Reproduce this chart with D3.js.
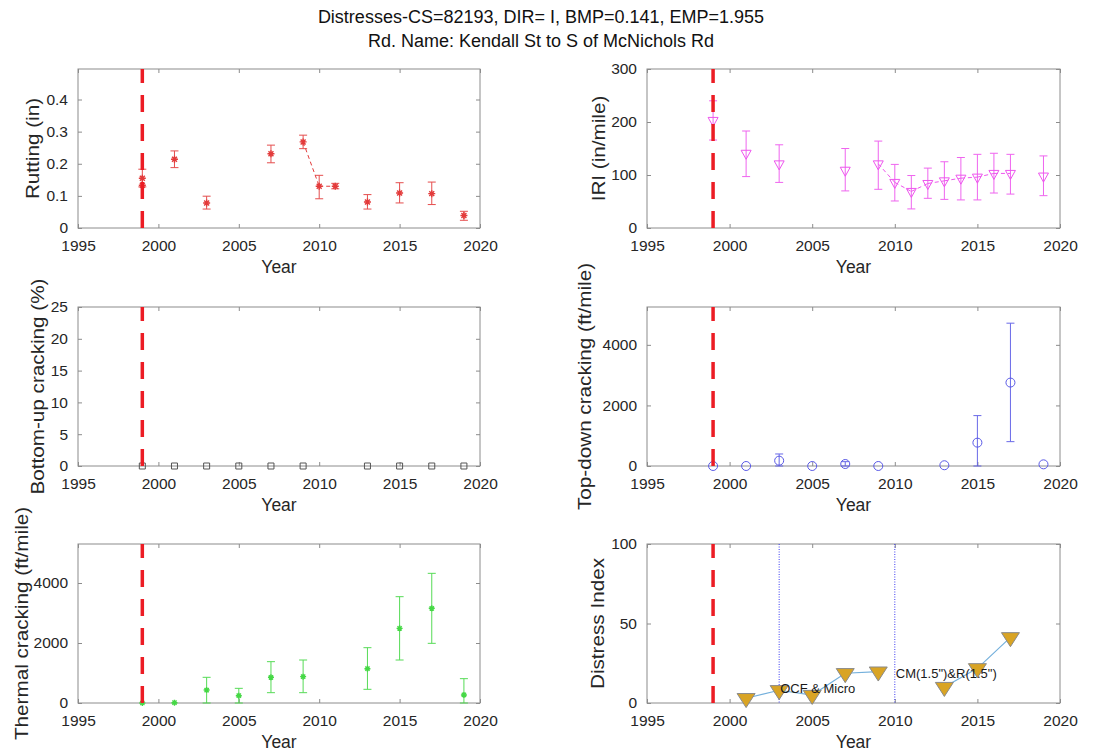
<!DOCTYPE html>
<html>
<head>
<meta charset="utf-8">
<script src="https://cdn.jsdelivr.net/npm/d3@7"></script>
<style>
body { margin: 0; background: #fff; }
svg { font-family: "Liberation Sans", Arial, sans-serif; }
</style>
</head>
<body>
<svg width="1106" height="754"></svg>
<script>
// ---- data ----
var xTicks = [1995, 2000, 2005, 2010, 2015, 2020];
var eventYear = 1999;

var rutYears = [1999, 1999, 2001, 2003, 2007, 2009, 2010, 2011, 2013, 2015, 2017, 2019];
var rutVals  = [0.155, 0.133, 0.214, 0.078, 0.231, 0.268, 0.130, 0.130, 0.081, 0.109, 0.107, 0.039];
var rutLo    = [0.128, 0.133, 0.188, 0.059, 0.203, 0.247, 0.091, 0.122, 0.059, 0.078, 0.073, 0.024];
var rutHi    = [0.183, 0.133, 0.240, 0.099, 0.258, 0.289, 0.164, 0.139, 0.104, 0.141, 0.143, 0.052];
var rutTicks = [0, 0.1, 0.2, 0.3, 0.4];

var iriYears = [1999, 2001, 2003, 2007, 2009, 2010, 2011, 2012, 2013, 2014, 2015, 2016, 2017, 2019];
var iriVals  = [203, 141, 121, 109, 121, 86, 69, 84, 89, 94, 96, 103, 103, 98];
var iriLo    = [166, 97, 86, 70, 73, 51, 36, 56, 54, 53, 53, 66, 64, 61];
var iriHi    = [240, 183, 157, 150, 164, 120, 99, 113, 125, 133, 139, 141, 139, 136];
var iriTicks = [0, 100, 200, 300];

var buYears = [1999, 2001, 2003, 2005, 2007, 2009, 2013, 2015, 2017, 2019];
var buVals  = [0, 0, 0, 0, 0, 0, 0, 0, 0, 0];
var buTicks = [0, 5, 10, 15, 20, 25];

var tdYears = [1999, 2001, 2003, 2005, 2007, 2009, 2013, 2015, 2017, 2019];
var tdVals  = [0, 0, 176, 0, 66, 0, 25, 771, 2755, 55];
var tdLo    = [0, 0, 0, 0, 0, 0, 25, 0, 804, 55];
var tdHi    = [0, 0, 397, 0, 143, 0, 25, 1664, 4716, 55];
var tdTicks = [0, 2000, 4000];

var tcYears = [1999, 2001, 2003, 2005, 2007, 2009, 2013, 2015, 2017, 2019];
var tcVals  = [0, 10, 433, 244, 856, 878, 1144, 2489, 3156, 267];
var tcLo    = [0, 10, 0, 0, 344, 344, 456, 1433, 1989, 0];
var tcHi    = [0, 10, 856, 489, 1378, 1433, 1844, 3544, 4322, 811];
var tcTicks = [0, 2000, 4000];

var diYears = [2001, 2003, 2005, 2007, 2009, 2013, 2015, 2017];
var diVals  = [3, 8, 5, 18.7, 19.7, 10, 21.8, 41.3];
var diSeg   = [0, 0, 0, 0, 0, 1, 1, 1];
var diTicks = [0, 50, 100];
var treatYears  = [2003, 2010];
var treatLabels = ["OCF & Micro", "CM(1.5\")&R(1.5\")"];
var treatLabelY = [9.2, 18.3];

// ---- layout ----
var layout = [
  {left: 78,  top: 69,  right: 480,  bottom: 228, ylabelX: 33},
  {left: 647, top: 69,  right: 1060, bottom: 228, ylabelX: 599},
  {left: 78,  top: 307, right: 480,  bottom: 466, ylabelX: 38},
  {left: 647, top: 307, right: 1060, bottom: 466, ylabelX: 585},
  {left: 78,  top: 544, right: 480,  bottom: 703, ylabelX: 22},
  {left: 647, top: 544, right: 1060, bottom: 703, ylabelX: 598}
];

var panels = [
  {label: "Rutting (in)", ymax: 0.495, ticks: rutTicks, years: rutYears, vals: rutVals, lo: rutLo, hi: rutHi,
   color: "#e33b3b", marker: "asterisk", size: 3.5, link: "consecutive"},
  {label: "IRI (in/mile)", ymax: 300, ticks: iriTicks, years: iriYears, vals: iriVals, lo: iriLo, hi: iriHi,
   color: "#ee55ee", marker: "triangle", size: 10, link: "consecutive"},
  {label: "Bottom-up cracking (%)", ymax: 25, ticks: buTicks, years: buYears, vals: buVals,
   color: "#555555", marker: "square", size: 6},
  {label: "Top-down cracking (ft/mile)", ymax: 5250, ticks: tdTicks, years: tdYears, vals: tdVals, lo: tdLo, hi: tdHi,
   color: "#5a5ae6", marker: "circle", size: 4.5},
  {label: "Thermal cracking (ft/mile)", ymax: 5300, ticks: tcTicks, years: tcYears, vals: tcVals, lo: tcLo, hi: tcHi,
   color: "#45d845", marker: "asterisk", size: 3},
  {label: "Distress Index", ymax: 100, ticks: diTicks, years: diYears, vals: diVals, seg: diSeg,
   color: "#d9a424", marker: "bigtriangle", size: 18}
];

var svg = d3.select("svg");

svg.append("text").attr("x", 541).attr("y", 23).attr("text-anchor", "middle")
  .style("font-size", "18px").attr("fill", "#111")
  .text("Distresses-CS=82193, DIR= I, BMP=0.141, EMP=1.955");
svg.append("text").attr("x", 541).attr("y", 47).attr("text-anchor", "middle")
  .style("font-size", "18px").attr("fill", "#111")
  .text("Rd. Name: Kendall St to S of McNichols Rd");

function asteriskPath(r) {
  var d = r * 0.7071;
  return "M" + (-r) + ",0H" + r + "M0," + (-r) + "V" + r +
    "M" + (-d) + "," + (-d) + "L" + d + "," + d + "M" + (-d) + "," + d + "L" + d + "," + (-d);
}
function triDownPath(w, h) {
  return "M" + (-w / 2) + "," + (-h / 3) + "L" + (w / 2) + "," + (-h / 3) + "L0," + (2 * h / 3) + "Z";
}

function styleAxis(sel) {
  sel.attr("font-family", null).attr("font-size", null);
  sel.select(".domain").remove();
  sel.selectAll(".tick line").attr("stroke", "#8c8c8c");
  sel.selectAll(".tick text").attr("fill", "#262626").style("font-size", "15.5px");
}

function drawPanel(L, P, idx) {
  var w = L.right - L.left, h = L.bottom - L.top;
  var g = svg.append("g").attr("transform", "translate(" + L.left + "," + L.top + ")");
  var x = d3.scaleLinear().domain([1995, 2020]).range([0, w]);
  var y = d3.scaleLinear().domain([0, P.ymax]).range([h, 0]);

  g.append("rect").attr("width", w).attr("height", h)
    .attr("fill", "#fff").attr("stroke", "#8c8c8c").attr("stroke-width", 1);

  g.append("g").attr("transform", "translate(0," + h + ")")
    .call(d3.axisBottom(x).tickValues(xTicks).tickSize(-4).tickPadding(12).tickFormat(d3.format("d")))
    .call(styleAxis);
  g.append("g")
    .call(d3.axisTop(x).tickValues(xTicks).tickSize(-4).tickFormat(""))
    .call(styleAxis);
  g.append("g")
    .call(d3.axisLeft(y).tickValues(P.ticks).tickSize(-4).tickPadding(10).tickFormat(function(d) { return d; }))
    .call(styleAxis);
  g.append("g").attr("transform", "translate(" + w + ",0)")
    .call(d3.axisRight(y).tickValues(P.ticks).tickSize(-4).tickFormat(""))
    .call(styleAxis);

  var pts = P.years.map(function(yr, i) {
    return {year: yr, val: P.vals[i], lo: P.lo ? P.lo[i] : P.vals[i], hi: P.hi ? P.hi[i] : P.vals[i],
            seg: P.seg ? P.seg[i] : null};
  });

  // treatment lines (distress index)
  if (idx === 5) {
    treatYears.forEach(function(yr, i) {
      g.append("line").attr("x1", x(yr)).attr("x2", x(yr)).attr("y1", 0).attr("y2", h)
        .attr("stroke", "#3b3bf0").attr("stroke-width", 1).attr("stroke-dasharray", "1,1.5");
    });
  }

  // connecting lines
  var line = d3.line().x(function(d) { return x(d.year); }).y(function(d) { return y(d.val); });
  if (P.link === "consecutive") {
    for (var i = 1; i < pts.length; i++) {
      if (pts[i].year - pts[i - 1].year === 1) {
        g.append("path").attr("d", line([pts[i - 1], pts[i]]))
          .attr("fill", "none").attr("stroke", P.color).attr("stroke-width", 1)
          .attr("stroke-dasharray", "4,3");
      }
    }
  }
  if (P.seg) {
    d3.groups(pts, function(d) { return d.seg; }).forEach(function(grp) {
      g.append("path").attr("d", line(grp[1]))
        .attr("fill", "none").attr("stroke", "#74b0dc").attr("stroke-width", 1.2);
    });
  }

  // error bars
  var cap = 4;
  pts.filter(function(d) { return d.hi > d.lo; }).forEach(function(d) {
    var cx = x(d.year);
    var eb = g.append("g").attr("stroke", P.color).attr("stroke-width", 1).attr("opacity", 0.9);
    eb.append("line").attr("x1", cx).attr("x2", cx).attr("y1", y(d.lo)).attr("y2", y(d.hi));
    eb.append("line").attr("x1", cx - cap).attr("x2", cx + cap).attr("y1", y(d.lo)).attr("y2", y(d.lo));
    eb.append("line").attr("x1", cx - cap).attr("x2", cx + cap).attr("y1", y(d.hi)).attr("y2", y(d.hi));
  });

  // markers
  var m = g.selectAll(".mk").data(pts).enter().append("path").attr("class", "mk")
    .attr("transform", function(d) { return "translate(" + x(d.year) + "," + y(d.val) + ")"; });
  if (P.marker === "asterisk") {
    m.attr("d", asteriskPath(P.size)).attr("fill", "none").attr("stroke", P.color).attr("stroke-width", 1.4);
  } else if (P.marker === "triangle") {
    m.attr("d", triDownPath(P.size, P.size * 0.9)).attr("fill", "none").attr("stroke", P.color).attr("stroke-width", 1);
  } else if (P.marker === "square") {
    m.attr("d", "M-3,-3H3V3H-3Z").attr("fill", "none").attr("stroke", P.color).attr("stroke-width", 1);
  } else if (P.marker === "circle") {
    m.attr("d", d3.symbol().type(d3.symbolCircle).size(Math.PI * P.size * P.size)())
      .attr("fill", "none").attr("stroke", P.color).attr("stroke-width", 1);
  } else if (P.marker === "bigtriangle") {
    m.attr("d", triDownPath(P.size, P.size * 0.78)).attr("fill", P.color).attr("stroke", "#8a8a8a").attr("stroke-width", 1);
  }

  // treatment labels
  if (idx === 5) {
    treatYears.forEach(function(yr, i) {
      g.append("text").attr("x", x(yr) + 1).attr("y", y(treatLabelY[i])).attr("dy", "0.35em")
        .style("font-size", "13px").attr("fill", "#1a1a1a").text(treatLabels[i]);
    });
  }

  // construction year line
  g.append("line").attr("x1", x(eventYear)).attr("x2", x(eventYear)).attr("y1", h).attr("y2", 0)
    .attr("stroke", "#ec1c24").attr("stroke-width", 3.5).attr("stroke-dasharray", "17,12");

  // axis labels
  g.append("text").attr("x", w / 2).attr("y", h + 45).attr("text-anchor", "middle")
    .style("font-size", "17.5px").attr("fill", "#262626").text("Year");
  svg.append("text")
    .attr("transform", "translate(" + L.ylabelX + "," + (L.top + h / 2) + ") rotate(-90) scale(1.15,1)")
    .attr("text-anchor", "middle").attr("dy", "0.35em")
    .style("font-size", "18px").attr("fill", "#262626").text(P.label);
}

panels.forEach(function(P, i) { drawPanel(layout[i], P, i); });
</script>
</body>
</html>
